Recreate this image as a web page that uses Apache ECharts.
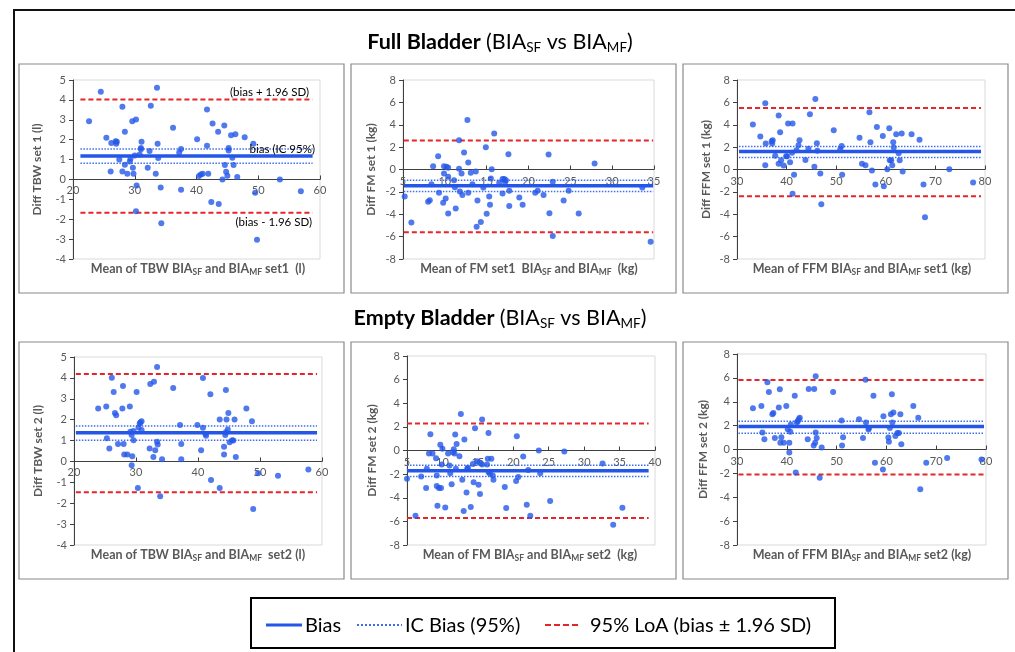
<!DOCTYPE html>
<html>
<head>
<meta charset="utf-8">
<script src="https://cdn.jsdelivr.net/npm/echarts@6/dist/echarts.min.js"></script>
<style>
html,body{margin:0;padding:0;background:#fff;}
#main{width:1015px;height:652px;}
</style>
</head>
<body>
<div id="main"></div>
<script>
// ---------- DATA ----------
var tbwSet1 = [[22.6,2.93],[24.5,4.41],[25.4,2.1],[26.2,1.83],[26.1,0.4],[26.9,1.92],[27.0,1.8],[27.1,1.9],[27.5,1.0],[28.0,3.65],[28.0,0.4],[28.4,2.4],[28.4,0.74],[28.8,0.29],[29.2,0.9],[29.3,1.04],[29.6,2.93],[29.7,0.59],[29.8,0.29],[30.2,3.01],[30.2,-1.6],[30.3,-0.3],[31.0,1.52],[31.0,1.58],[31.1,1.9],[30.8,1.26],[30.0,1.2],[32.1,0.59],[32.4,1.43],[32.6,3.7],[33.4,0.29],[33.6,4.61],[33.7,1.8],[33.8,1.08],[34.2,-0.4],[34.3,-2.2],[36.2,2.6],[37.2,1.35],[37.5,1.53],[37.5,-0.52],[40.1,2.02],[40.4,0.17],[40.7,0.25],[41.0,0.29],[41.7,3.52],[41.7,1.7],[41.9,0.29],[42.4,-1.13],[42.6,2.81],[43.5,2.4],[43.6,-1.23],[44.2,0.0],[44.5,2.71],[44.6,0.72],[44.8,0.39],[45.0,0.19],[45.2,1.58],[45.2,1.45],[45.6,2.22],[45.8,1.09],[46.0,0.72],[46.3,2.27],[46.6,0.12],[47.8,2.12],[49.2,1.8],[49.5,-0.67],[49.8,-3.03],[53.5,0.0],[56.9,-0.59]];
var fmSet1 = [[5.2,-2.41],[6.0,-4.73],[8.0,-2.89],[8.2,-2.74],[8.4,-1.31],[8.6,0.30],[9.2,1.19],[9.3,-2.08],[9.8,-2.98],[9.9,-0.36],[9.9,0.3],[10.1,-2.59],[10.2,0.24],[10.4,-0.65],[10.4,0.15],[10.4,-3.93],[11.1,-0.95],[11.2,-1.58],[11.3,-3.48],[11.7,2.62],[11.7,0.06],[11.8,-1.96],[12.0,-0.36],[12.1,-2.29],[12.3,1.52],[12.7,4.43],[12.8,0.62],[12.8,-2.08],[13.1,-0.30],[13.3,-1.31],[13.7,-0.18],[13.8,-5.12],[13.9,-2.77],[14.3,-4.7],[14.6,-1.61],[14.9,1.99],[15.0,-3.96],[15.3,-2.41],[15.4,-3.15],[15.5,-0.80],[15.6,0.03],[15.9,3.21],[16.5,-1.19],[16.9,-0.86],[16.9,-2.14],[17.1,-0.86],[17.2,-1.13],[17.3,-0.95],[17.6,1.37],[17.7,-1.9],[17.7,-3.27],[18.9,-2.5],[19.3,-3.15],[20.8,-2.08],[21.1,-1.9],[21.8,-2.29],[22.4,1.34],[22.5,-3.9],[22.9,-1.1],[22.9,-5.95],[24.2,-2.77],[24.8,-1.9],[26.0,-3.93],[27.9,0.54],[33.6,-1.61],[34.6,-6.46]];
var ffmSet1 = [[33.2,4.02],[34.7,2.95],[35.7,5.92],[35.8,2.32],[35.7,0.39],[37.0,2.53],[37.2,2.62],[37.1,2.32],[37.7,1.22],[38.4,4.82],[38.4,0.51],[38.7,3.33],[38.9,0.83],[39.4,0.36],[39.9,1.19],[40.1,1.19],[40.3,4.11],[40.7,0.65],[41.1,1.49],[41.2,4.11],[41.2,-2.17],[41.5,-0.48],[42.0,1.73],[42.4,2.17],[42.6,2.62],[43.8,0.86],[44.4,1.85],[44.7,4.94],[45.6,0.24],[45.8,6.31],[46.1,2.35],[46.2,1.67],[46.8,-0.36],[47.0,-3.1],[49.5,3.51],[50.8,1.79],[51.1,2.11],[51.2,-0.48],[54.7,2.83],[55.2,0.51],[55.9,0.39],[56.7,5.12],[56.9,2.44],[57.2,-0.09],[57.9,-1.34],[58.2,3.81],[59.4,3.0],[59.6,-1.49],[60.3,0.03],[60.7,3.69],[60.8,0.83],[61.1,0.83],[61.3,0.39],[61.5,2.44],[61.6,1.96],[62.1,3.15],[62.6,1.46],[62.8,0.83],[63.2,3.21],[63.4,-0.18],[65.2,3.15],[66.8,2.65],[67.6,-1.34],[67.9,-4.26],[72.8,0.03],[77.6,-1.16]];
var tbwSet2 = [[23.9,2.53],[25.2,2.63],[25.3,1.11],[25.7,0.62],[26.1,4.01],[26.4,3.33],[26.6,2.32],[26.8,2.21],[27.1,0.83],[27.8,2.53],[27.9,3.61],[28.0,0.83],[28.1,0.33],[28.6,0.33],[29.0,2.63],[29.1,1.42],[29.3,1.26],[29.3,-0.18],[29.4,0.25],[29.6,1.02],[29.6,1.46],[30.1,3.33],[30.3,-1.27],[30.4,1.62],[30.6,1.82],[30.7,1.86],[30.9,1.93],[30.9,1.5],[32.2,0.62],[32.3,3.71],[32.8,0.21],[32.9,3.82],[33.1,0.53],[33.4,4.52],[33.4,0.94],[33.5,0.81],[33.9,-1.67],[34.2,0.11],[36.0,3.52],[37.1,1.74],[37.3,0.1],[37.3,0.83],[39.9,1.74],[40.5,0.53],[40.8,1.61],[40.8,4.0],[41.2,1.31],[41.3,1.23],[42.0,3.22],[42.1,-0.89],[43.5,2.01],[43.5,-1.27],[44.2,0.70],[44.2,0.33],[44.4,1.26],[44.5,1.4],[44.5,3.42],[44.6,2.01],[44.8,1.53],[44.9,2.32],[45.1,0.92],[45.5,1.02],[45.7,1.0],[45.9,2.01],[46.1,0.21],[47.8,2.53],[48.7,1.93],[48.9,-2.28],[49.7,-0.57],[52.9,-0.68],[57.8,-0.38]];
var fmSet2 = [[5.0,-2.39],[6.2,-5.52],[7.0,-2.2],[7.7,-3.18],[7.8,-1.55],[8.1,-0.25],[8.3,1.38],[8.6,-0.25],[9.1,-0.65],[9.2,-2.11],[9.2,-3.01],[9.3,-4.68],[9.5,-3.18],[9.7,0.48],[9.8,-3.18],[9.9,-1.18],[10.0,0.14],[10.4,-4.82],[10.8,-0.25],[11.0,-1.27],[11.1,-1.92],[11.3,-2.85],[11.5,-0.14],[11.6,0.11],[11.7,-0.25],[11.8,1.35],[11.9,-1.55],[12.0,0.54],[12.4,-0.48],[12.6,3.1],[12.8,-2.48],[13.0,-5.13],[13.1,0.93],[13.4,-3.55],[13.5,-1.55],[13.6,-1.46],[14.0,-4.79],[14.3,-1.15],[14.4,-2.68],[14.6,1.89],[14.9,-0.9],[15.1,-2.9],[15.2,-1.01],[15.3,-3.69],[15.6,2.62],[15.6,-1.18],[16.3,-1.18],[16.4,-0.7],[16.5,-1.83],[16.5,1.49],[16.7,-1.97],[16.9,-0.7],[17.1,-2.11],[17.2,-2.48],[18.8,-3.1],[19.0,-4.87],[20.4,-2.59],[20.5,1.21],[20.7,-2.25],[21.4,-0.51],[21.9,-4.59],[22.1,-1.66],[22.4,-5.52],[23.6,0.0],[23.8,-1.92],[25.2,-4.28],[27.2,-0.08],[32.6,-1.1],[34.1,-6.28],[35.4,-4.85]];
var ffmSet2 = [[33.2,3.45],[34.9,3.65],[35.1,1.42],[35.5,0.86],[36.1,5.63],[36.4,4.82],[37.1,2.95],[37.3,3.06],[37.6,0.97],[38.4,3.51],[38.6,5.04],[38.7,0.56],[38.9,1.03],[39.4,0.56],[39.9,3.65],[40.2,1.7],[40.5,0.56],[40.5,-0.25],[40.7,1.48],[40.8,2.09],[41.6,4.51],[41.8,-1.92],[42.0,2.26],[42.2,2.37],[42.4,2.53],[42.6,2.67],[44.2,0.86],[44.4,5.07],[45.4,0.33],[45.5,5.07],[45.7,0.56],[45.8,6.13],[45.8,1.42],[46.0,0.97],[46.6,-2.37],[47.0,0.17],[49.3,4.82],[51.0,2.42],[51.1,0.33],[51.3,1.03],[54.5,2.53],[55.3,0.97],[55.8,5.85],[55.9,2.26],[56.4,1.67],[56.5,1.81],[57.4,4.51],[57.7,-1.11],[59.3,-1.67],[59.4,2.79],[60.4,1.0],[60.5,0.64],[60.7,1.81],[60.9,2.95],[61.1,4.62],[61.2,2.26],[61.4,3.09],[61.8,1.14],[62.2,1.39],[62.5,1.39],[62.8,2.95],[63.0,0.45],[65.4,3.65],[66.4,2.67],[66.8,-3.34],[68.0,-1.11],[72.2,-0.72],[79.1,-0.84]];

var panelData = [tbwSet1, fmSet1, ffmSet1, tbwSet2, fmSet2, ffmSet2];
var biasValues  = [1.18, -1.46, 1.61, 1.37, -1.72, 1.92];
var icUpper     = [1.53, -0.95, 2.05, 1.70, -1.24, 2.37];
var icLower     = [0.81, -1.96, 1.07, 1.02, -2.20, 1.36];
var loaUpper    = [4.02, 2.59, 5.50, 4.19, 2.28, 5.82];
var loaLower    = [-1.68, -5.60, -2.38, -1.48, -5.72, -2.09];
var lineStartX  = [21.2, 5.1, 30.4, 20.3, 5.0, 30.3];
var lineEndX    = [58.8, 34.9, 79.2, 59.2, 39.1, 79.6];

var xMin = [20, 5, 30, 20, 5, 30];
var xMax = [60, 35, 80, 60, 40, 80];
var xStep = [10, 5, 10, 10, 5, 10];
var yMin = [-4, -8, -8, -4, -8, -8];
var yMax = [5, 8, 8, 5, 8, 8];
var yStep = [1, 2, 2, 1, 2, 2];

var yTitles = ['Diff TBW set 1 (l)', 'Diff FM set 1 (kg)', 'Diff FFM set 1 (kg)',
               'Diff TBW set 2 (l)', 'Diff FM set 2 (kg)', 'Diff FFM set 2 (kg)'];
var xTitles = [
  ['Mean of TBW BIA', 'SF', ' and BIA', 'MF', ' set1  (l)'],
  ['Mean of FM set1  BIA', 'SF', ' and BIA', 'MF', '  (kg)'],
  ['Mean of FFM BIA', 'SF', ' and BIA', 'MF', ' set1 (kg)'],
  ['Mean of TBW BIA', 'SF', ' and BIA', 'MF', '  set2 (l)'],
  ['Mean of FM BIA', 'SF', ' and BIA', 'MF', ' set2  (kg)'],
  ['Mean of FFM BIA', 'SF', ' and BIA', 'MF', ' set2 (kg)']
];
var rowTitles = ['Full Bladder', 'Empty Bladder'];
var legendLabels = ['Bias', 'IC Bias (95%)', '95% LoA (bias \u00B1 1.96 SD)'];
var annotations = ['(bias + 1.96 SD)', 'bias (IC 95%)', '(bias - 1.96 SD)'];

// ---------- LAYOUT ----------
var FONT = 'Lato, "Open Sans", sans-serif';
var grids = [
  {left: 73, top: 80, width: 247, height: 179},
  {left: 403, top: 80, width: 251, height: 179},
  {left: 737, top: 80, width: 248, height: 179},
  {left: 74, top: 357, width: 248, height: 188},
  {left: 407, top: 356, width: 248, height: 189},
  {left: 737, top: 354, width: 249, height: 191}
];
var yNameGap = [30, 26, 25, 30, 29, 28];
var xTitlePos = [[198, 269], [529, 269], [862, 269], [198, 555], [530, 555], [862, 555]];
var panelBoxes = [
  [19, 64, 325, 229], [351, 64, 325, 229], [683, 64, 325, 229],
  [19, 342, 325, 237], [351, 342, 325, 237], [683, 342, 325, 237]
];

var BLUE = '#2457e8';
var RED = '#e3262b';
var GRAY = '#595959';

var option = {
  backgroundColor: '#ffffff',
  animation: false,
  grid: [], xAxis: [], yAxis: [], series: [], graphic: []
};

for (var i = 0; i < 6; i++) {
  var g = grids[i];
  // the horizontal axis crosses the vertical axis at value 0
  var zeroOffset = -(0 - yMin[i]) / (yMax[i] - yMin[i]) * g.height;
  option.grid.push({left: g.left, top: g.top, width: g.width, height: g.height,
    show: true, borderColor: '#d9d9d9', borderWidth: 1, backgroundColor: 'transparent'});
  option.xAxis.push({
    type: 'value', gridIndex: i, min: xMin[i], max: xMax[i], interval: xStep[i],
    position: 'bottom', offset: zeroOffset,
    axisLine: {onZero: false, lineStyle: {color: '#404040', width: 1}},
    axisTick: {show: true, inside: true, length: 4, lineStyle: {color: '#404040'}},
    axisLabel: {color: GRAY, fontSize: 11, fontFamily: FONT, margin: 6},
    splitLine: {show: false}
  });
  option.yAxis.push({
    type: 'value', gridIndex: i, min: yMin[i], max: yMax[i], interval: yStep[i],
    position: 'left',
    name: yTitles[i], nameLocation: 'middle', nameGap: yNameGap[i],
    nameTextStyle: {color: GRAY, fontSize: 12, fontWeight: 'bold', fontFamily: FONT},
    axisLine: {show: true, onZero: false, lineStyle: {color: '#404040', width: 1}},
    axisTick: {show: true, length: 4, lineStyle: {color: '#404040'}},
    axisLabel: {color: GRAY, fontSize: 11, fontFamily: FONT, margin: 7},
    splitLine: {show: false}
  });
  var s = lineStartX[i], e = lineEndX[i];
  function hline(val, color, width, type, z) {
    return {type: 'line', xAxisIndex: i, yAxisIndex: i, data: [[s, val], [e, val]],
      symbol: 'none', silent: true, z: z,
      lineStyle: {color: color, width: width, type: type}};
  }
  option.series.push(hline(loaUpper[i], RED, 2, [5, 3], 2));
  option.series.push(hline(loaLower[i], RED, 2, [5, 3], 2));
  option.series.push(hline(icUpper[i], '#3f6fee', 1.5, [1.5, 1.5], 2));
  option.series.push(hline(icLower[i], '#3f6fee', 1.5, [1.5, 1.5], 2));
  option.series.push(hline(biasValues[i], BLUE, 3.5, 'solid', 3));
  option.series.push({
    type: 'scatter', xAxisIndex: i, yAxisIndex: i, data: panelData[i],
    symbol: 'circle', symbolSize: 6, z: 4,
    itemStyle: {color: BLUE}
  });

  // panel border
  var b = panelBoxes[i];
  option.graphic.push({type: 'rect', shape: {x: b[0], y: b[1], width: b[2], height: b[3]},
    style: {fill: 'none', stroke: '#8a8a8a', lineWidth: 1.2}, z: 0, silent: true});

  // x-axis title with subscripts
  var t = xTitles[i];
  option.graphic.push({type: 'text', x: xTitlePos[i][0], y: xTitlePos[i][1], z: 10, silent: true,
    style: {
      text: '{m|' + t[0] + '}{s|' + t[1] + '}{m|' + t[2] + '}{s|' + t[3] + '}{m|' + t[4] + '}',
      align: 'center', verticalAlign: 'middle',
      rich: {
        m: {fontSize: 12.5, fontWeight: 'bold', fontFamily: FONT, fill: GRAY, color: GRAY, lineHeight: 16},
        s: {fontSize: 8.5, fontWeight: 'bold', fontFamily: FONT, fill: GRAY, color: GRAY, lineHeight: 10, verticalAlign: 'bottom'}
      }
    }});
}

// outer frame
option.graphic.push({type: 'polyline', shape: {points: [[1015, 10], [14, 10], [14, 652]]},
  style: {fill: 'none', stroke: '#111', lineWidth: 2}, silent: true});

// row titles
var titleY = [42, 318];
for (var r = 0; r < 2; r++) {
  option.graphic.push({type: 'text', x: 500, y: titleY[r], silent: true,
    style: {
      text: '{b|' + rowTitles[r] + ' }{n|(BIA}{s|SF}{n| vs BIA}{s|MF}{n|)}',
      align: 'center', verticalAlign: 'middle',
      rich: {
        b: {fontSize: 21.5, fontWeight: 'bold', fontFamily: FONT, fill: '#000', color: '#000', lineHeight: 26},
        n: {fontSize: 21.5, fontWeight: 'normal', fontFamily: FONT, fill: '#000', color: '#000', lineHeight: 26},
        s: {fontSize: 13.5, fontWeight: 'normal', fontFamily: FONT, fill: '#000', color: '#000', lineHeight: 15, verticalAlign: 'bottom'}
      }
    }});
}

// annotations in first panel
var annPos = [[309, 92, 'right'], [315, 149, 'right'], [312, 222, 'right']];
for (var a = 0; a < 3; a++) {
  option.graphic.push({type: 'text', x: annPos[a][0], y: annPos[a][1], silent: true, z: 10,
    style: {text: annotations[a], align: annPos[a][2], verticalAlign: 'middle',
      fontSize: 11.5, fontFamily: FONT, fill: '#000'}});
}

// legend box
option.graphic.push({type: 'rect', shape: {x: 251, y: 598, width: 584, height: 50},
  style: {fill: '#fff', stroke: '#000', lineWidth: 2}, silent: true});
var LY = 625;
option.graphic.push({type: 'line', shape: {x1: 266, y1: LY, x2: 302, y2: LY},
  style: {stroke: BLUE, lineWidth: 3}, silent: true});
option.graphic.push({type: 'text', x: 305, y: LY + 1, silent: true,
  style: {text: legendLabels[0], align: 'left', verticalAlign: 'middle', fontSize: 20, fontFamily: FONT, fill: '#000'}});
option.graphic.push({type: 'line', shape: {x1: 357, y1: LY, x2: 402, y2: LY},
  style: {stroke: '#3f6fee', lineWidth: 2, lineDash: [2, 2]}, silent: true});
option.graphic.push({type: 'text', x: 405, y: LY + 1, silent: true,
  style: {text: legendLabels[1], align: 'left', verticalAlign: 'middle', fontSize: 20, fontFamily: FONT, fill: '#000'}});
option.graphic.push({type: 'line', shape: {x1: 545, y1: LY, x2: 581, y2: LY},
  style: {stroke: RED, lineWidth: 2.2, lineDash: [6, 3]}, silent: true});
option.graphic.push({type: 'text', x: 590, y: LY + 1, silent: true,
  style: {text: legendLabels[2], align: 'left', verticalAlign: 'middle', fontSize: 20, fontFamily: FONT, fill: '#000'}});

var chart = echarts.init(document.getElementById('main'), null, {renderer: 'canvas'});
chart.setOption(option);
</script>
</body>
</html>
